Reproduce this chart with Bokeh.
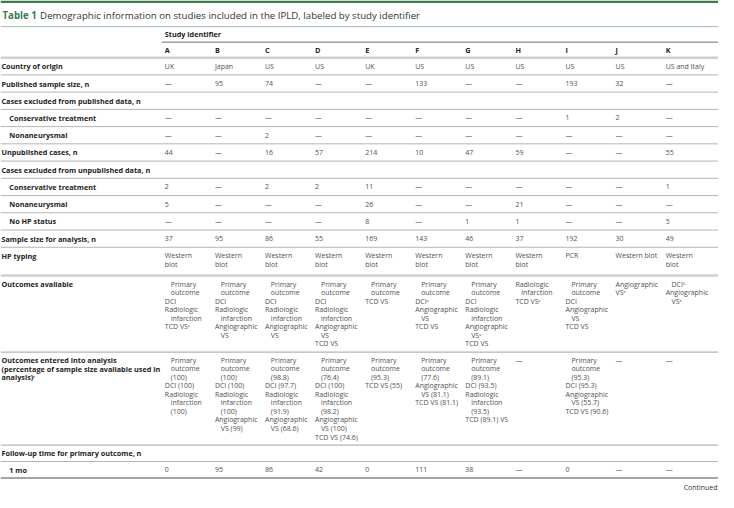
from bokeh.plotting import figure
from bokeh.models import Range1d
from bokeh.embed import file_html
from bokeh.resources import INLINE
from bokeh.core.properties import value

# ---------------- data ----------------
title_label = "Table 1"
title_text = "Demographic information on studies included in the IPLD, labeled by study identifier"
group_header = "Study identifier"
study_ids = ["A", "B", "C", "D", "E", "F", "G", "H", "I", "J", "K"]

country = ["UK", "Japan", "US", "US", "UK", "US", "US", "US", "US", "US", "US and Italy"]
published_n = ["—", "95", "74", "—", "—", "133", "—", "—", "193", "32", "—"]
excl_pub_conservative = ["—", "—", "—", "—", "—", "—", "—", "—", "1", "2", "—"]
excl_pub_nonaneurysmal = ["—", "—", "2", "—", "—", "—", "—", "—", "—", "—", "—"]
unpublished_n = ["44", "—", "16", "57", "214", "10", "47", "59", "—", "—", "55"]
excl_unpub_conservative = ["2", "—", "2", "2", "11", "—", "—", "—", "—", "—", "1"]
excl_unpub_nonaneurysmal = ["5", "—", "—", "—", "26", "—", "—", "21", "—", "—", "—"]
excl_unpub_no_hp = ["—", "—", "—", "—", "8", "—", "1", "1", "—", "—", "5"]
sample_size = ["37", "95", "86", "55", "169", "143", "46", "37", "192", "30", "49"]

# multi-line cells: a leading ">" marks an indented (continuation) line
hp_typing = [
    ["Western", "blot"], ["Western", "blot"], ["Western", "blot"], ["Western", "blot"],
    ["Western", "blot"], ["Western", "blot"], ["Western", "blot"], ["Western", "blot"],
    ["PCR"], ["Western blot"], ["Western", "blot"],
]
outcomes_available = [
    [">Primary", ">outcome", "DCI", "Radiologic", ">infarction", "TCD VSᵃ"],
    [">Primary", ">outcome", "DCI", "Radiologic", ">infarction", "Angiographic", ">VS"],
    [">Primary", ">outcome", "DCI", "Radiologic", ">infarction", "Angiographic", ">VS"],
    [">Primary", ">outcome", "DCI", "Radiologic", ">infarction", "Angiographic", ">VS", "TCD VS"],
    [">Primary", ">outcome", "TCD VS"],
    [">Primary", ">outcome", "DCIᵃ", "Angiographic", ">VS", "TCD VS"],
    [">Primary", ">outcome", "DCI", "Radiologic", ">infarction", "Angiographic", ">VSᵃ", "TCD VS"],
    ["Radiologic", ">infarction", "TCD VSᵃ"],
    [">Primary", ">outcome", "DCI", "Angiographic", ">VS", "TCD VS"],
    ["Angiographic", "VSᵇ"],
    [">DCIᵇ", "Angiographic", ">VSᵇ"],
]
outcomes_entered = [
    [">Primary", ">outcome", ">(100)", "DCI (100)", "Radiologic", ">infarction", ">(100)"],
    [">Primary", ">outcome", ">(100)", "DCI (100)", "Radiologic", ">infarction", ">(100)", "Angiographic", ">VS (99)"],
    [">Primary", ">outcome", ">(98.8)", "DCI (97.7)", "Radiologic", ">infarction", ">(91.9)", "Angiographic", ">VS (68.6)"],
    [">Primary", ">outcome", ">(76.4)", "DCI (100)", "Radiologic", ">infarction", ">(98.2)", "Angiographic", ">VS (100)", "TCD VS (74.6)"],
    [">Primary", ">outcome", ">(95.3)", "TCD VS (55)"],
    [">Primary", ">outcome", ">(77.6)", "Angiographic", ">VS (81.1)", "TCD VS (81.1)"],
    [">Primary", ">outcome", ">(89.1)", "DCI (93.5)", "Radiologic", ">infarction", ">(93.5)", "TCD (89.1) VS"],
    ["—"],
    [">Primary", ">outcome", ">(95.3)", "DCI (95.3)", "Angiographic", ">VS (55.7)", "TCD VS (90.6)"],
    ["—"],
    ["—"],
]
followup_1mo = ["0", "95", "86", "42", "0", "111", "38", "—", "0", "—", "—"]

simple_rows = [
    ("Country of origin", False, country),
    ("Published sample size, n", False, published_n),
    ("Cases excluded from published data, n", False, None),
    ("Conservative treatment", True, excl_pub_conservative),
    ("Nonaneurysmal", True, excl_pub_nonaneurysmal),
    ("Unpublished cases, n", False, unpublished_n),
    ("Cases excluded from unpublished data, n", False, None),
    ("Conservative treatment", True, excl_unpub_conservative),
    ("Nonaneurysmal", True, excl_unpub_nonaneurysmal),
    ("No HP status", True, excl_unpub_no_hp),
    ("Sample size for analysis, n", False, sample_size),
]
hp_label = ["HP typing"]
avail_label = ["Outcomes available"]
entered_label = ["Outcomes entered into analysis",
                 "(percentage of sample size available used in",
                 "analysis)ᶜ"]
followup_label = "Follow-up time for primary outcome, n"
followup_row_label = "1 mo"
continued_text = "Continued"

# ---------------- layout (reference pixel space) ----------------
REF_W, REF_H = 734, 508
FIG_W, FIG_H = 718, 492
K = FIG_H / REF_H
FS_B = 7.5 * K        # bold row labels
FS_V = 7.2 * K        # cell values
FS_T = 10.0           # title (reference px)

LABEL_X, SUB_X, INDENT = 1, 9, 6
COL_X0, COL_DX = 168, 51.2
col_x = [COL_X0 + i * COL_DX for i in range(len(study_ids))]

TITLE_Y, TITLE_RULE_Y = 15, 27
STUDY_Y, STUDY_RULE_Y = 35, 43
LETTER_Y, HEAD_RULE_Y = 51, 59
ROW_H, LINE_H = 17.8, 8.8

GREEN = "#3b7b4c"
LABEL_C = "#222222"
VAL_C = "#505050"
RULE_C = "#b5b5b5"

p = figure(width=FIG_W, height=FIG_H, output_backend="svg", toolbar_location=None,
           x_range=Range1d(0, REF_W), y_range=Range1d(REF_H, 0),
           min_border=0, background_fill_color="white", border_fill_color="white")
p.axis.visible = False
p.grid.visible = False
p.outline_line_color = None

bold = {"x": [], "y": [], "t": []}
vals = {"x": [], "y": [], "t": []}
rules = []  # (y, x0, x1, color, width)


def add(d, x, y, t):
    d["x"].append(x); d["y"].append(y); d["t"].append(t)


def add_cell_lines(ci, y0, lines):
    for j, ln in enumerate(lines):
        ind = INDENT if ln.startswith(">") else 0
        add(vals, col_x[ci] + ind, y0 + j * LINE_H, ln.lstrip(">"))


# header
p.quad(left=0, right=REF_W, top=0, bottom=2.6, fill_color=GREEN, line_color=None)
p.text(x=[2], y=[TITLE_Y], text=[title_label], text_font=value("Open Sans"),
       text_font_style="bold", text_font_size=value(f"{FS_T * K:.2f}px"),
       text_color=GREEN, text_baseline="middle")
p.text(x=[2 + 3.85 * FS_T], y=[TITLE_Y], text=[title_text], text_font=value("Open Sans"),
       text_font_size=value(f"{FS_T * K:.2f}px"), text_color="#333333", text_baseline="middle")
rules.append((TITLE_RULE_Y, 0, REF_W, "#9fc2a7", 1))
add(bold, col_x[0], STUDY_Y, group_header)
rules.append((STUDY_RULE_Y, col_x[0] - 3, REF_W, "#6e6e6e", 1))
for ci, sid in enumerate(study_ids):
    add(bold, col_x[ci], LETTER_Y, sid)
rules.append((HEAD_RULE_Y, 0, REF_W, "#d0d0d0", 2.5))

# simple rows
y_top = HEAD_RULE_Y
for label, sub, data in simple_rows:
    yc = y_top + ROW_H / 2
    add(bold, SUB_X if sub else LABEL_X, yc, label)
    if data is not None:
        for ci, v in enumerate(data):
            add(vals, col_x[ci], yc, v)
    y_top += ROW_H
    rules.append((y_top, 0, REF_W, RULE_C, 1))

# HP typing
first = y_top + 8.5
add(bold, LABEL_X, first, hp_label[0])
for ci, cell in enumerate(hp_typing):
    add_cell_lines(ci, first, cell)
y_top = 284
rules.append((y_top, 0, REF_W, "#d0d0d0", 2.5))

# Outcomes available
first = y_top + 9
add(bold, LABEL_X, first, avail_label[0])
for ci, cell in enumerate(outcomes_available):
    add_cell_lines(ci, first, cell)
y_top = 363
rules.append((y_top, 0, REF_W, RULE_C, 1.2))

# Outcomes entered
first = y_top + 8.5
for j, t in enumerate(entered_label):
    add(bold, LABEL_X, first + j * LINE_H, t)
for ci, cell in enumerate(outcomes_entered):
    add_cell_lines(ci, first, cell)
y_top = 459
rules.append((y_top, 0, REF_W, RULE_C, 1.2))

# Follow-up
add(bold, LABEL_X, y_top + 8.5, followup_label)
y_top += 17
rules.append((y_top, 0, REF_W, RULE_C, 1))
add(bold, SUB_X, y_top + 8.5, followup_row_label)
for ci, v in enumerate(followup_1mo):
    add(vals, col_x[ci], y_top + 8.5, v)
y_top += 17
rules.append((y_top, 0, REF_W, "#a5a5a5", 2))

p.text(x=[REF_W - 1], y=[y_top + 9.5], text=[continued_text], text_font=value("Open Sans"),
       text_font_size=value(f"{FS_V:.2f}px"), text_color="#333333",
       text_baseline="middle", text_align="right")

# draw rules
p.segment(x0=[r[1] for r in rules], x1=[r[2] for r in rules],
          y0=[r[0] for r in rules], y1=[r[0] for r in rules],
          line_color=[r[3] for r in rules], line_width=[r[4] for r in rules])

p.text(x=bold["x"], y=bold["y"], text=bold["t"], text_font=value("Open Sans"),
       text_font_style="bold", text_font_size=value(f"{FS_B:.2f}px"),
       text_color=LABEL_C, text_baseline="middle", text_align="left")
p.text(x=vals["x"], y=vals["y"], text=vals["t"], text_font=value("Open Sans"),
       text_font_size=value(f"{FS_V:.2f}px"),
       text_color=VAL_C, text_baseline="middle", text_align="left")

open("out.html", "w").write(file_html(p, INLINE))
